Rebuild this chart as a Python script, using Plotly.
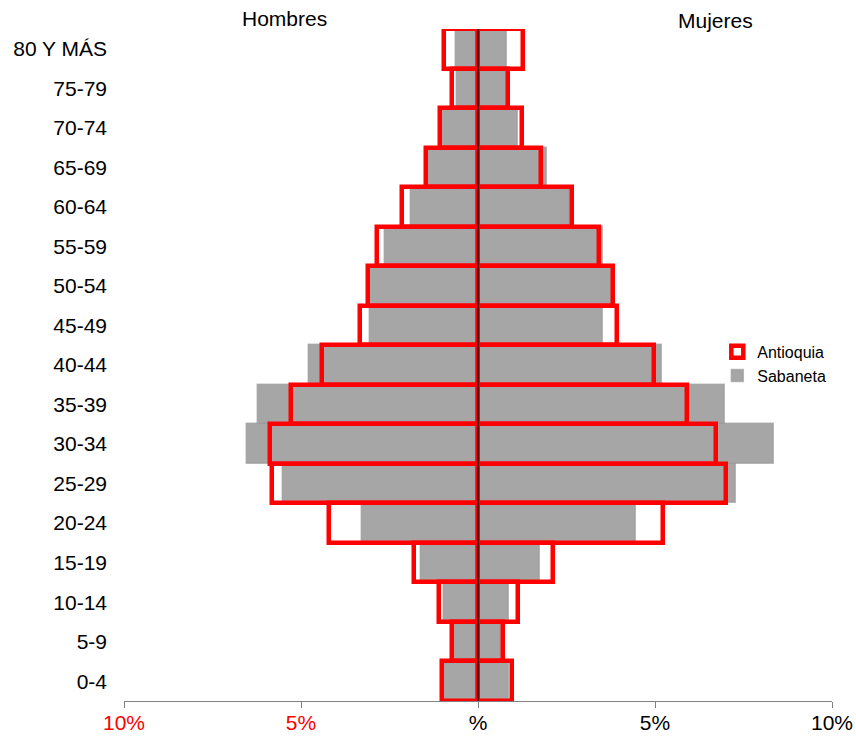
import plotly.graph_objects as go

grupos = ["0-4", "5-9", "10-14", "15-19", "20-24", "25-29", "30-34", "35-39", "40-44",
          "45-49", "50-54", "55-59", "60-64", "65-69", "70-74", "75-79", "80 Y MÁS"]

sab_hombres = [0.98, 0.68, 0.96, 1.62, 3.27, 5.52, 6.53, 6.22, 4.77,
               3.05, 3.05, 2.63, 1.90, 1.45, 1.03, 0.60, 0.62]
sab_mujeres = [0.88, 0.66, 0.88, 1.75, 4.47, 7.28, 8.37, 6.98, 5.20,
               3.53, 3.81, 3.53, 2.60, 1.94, 1.14, 0.84, 0.81]
ant_hombres = [1.02, 0.73, 1.10, 1.80, 4.21, 5.81, 5.88, 5.28, 4.40,
               3.33, 3.10, 2.85, 2.15, 1.47, 1.06, 0.73, 0.96]
ant_mujeres = [0.95, 0.71, 1.12, 2.11, 5.23, 7.00, 6.71, 5.91, 4.97,
               3.93, 3.81, 3.42, 2.66, 1.79, 1.24, 0.86, 1.27]

tick_vals = [-10, -5, 0, 5, 10]
tick_text = ["<span style='color:#FF0000'>10%</span>", "<span style='color:#FF0000'>5%</span>",
             "%", "5%", "10%"]

gray = "#A6A6A6"
red = "#FF0000"
n = len(grupos)

fig = go.Figure()
fig.add_trace(go.Bar(y=grupos, x=[-v for v in sab_hombres], orientation="h", name="Sabaneta",
                     marker=dict(color=gray, line=dict(color="rgba(150,150,150,0.6)", width=1.5)),
                     legendrank=2, showlegend=True))
fig.add_trace(go.Bar(y=grupos, x=sab_mujeres, orientation="h", name="Sabaneta",
                     marker=dict(color=gray, line=dict(color="rgba(150,150,150,0.6)", width=1.5)),
                     showlegend=False))
fig.add_trace(go.Bar(y=grupos, x=[-v for v in ant_hombres], orientation="h", name="Antioquia",
                     marker=dict(color="rgba(0,0,0,0)", line=dict(color=red, width=4.5)),
                     legendrank=1, showlegend=True))
fig.add_trace(go.Bar(y=grupos, x=ant_mujeres, orientation="h", name="Antioquia",
                     marker=dict(color="rgba(0,0,0,0)", line=dict(color=red, width=4.5)),
                     showlegend=False))

fig.add_shape(type="line", x0=0, x1=0, y0=0, y1=1, xref="x", yref="paper",
              line=dict(color="#500000", width=2))

fig.update_layout(
    barmode="overlay", bargap=0,
    width=856, height=738,
    margin=dict(l=124, r=24, t=29, b=37),
    plot_bgcolor="white", paper_bgcolor="white",
    font=dict(family="Liberation Sans, Arial, sans-serif", size=21, color="#000000"),
    xaxis=dict(range=[-10, 10], tickvals=tick_vals, ticktext=tick_text, automargin=False,
               showgrid=False, zeroline=False, showline=True, linecolor="#808080", linewidth=1,
               ticks="outside", ticklen=6, tickcolor="#808080", tickfont=dict(size=21),
               ticklabelstandoff=-3),
    yaxis=dict(categoryorder="array", categoryarray=grupos, range=[-0.5, n - 0.5],
               showgrid=False, zeroline=False, automargin=False,
               showline=False, ticks="", tickfont=dict(size=21), ticklabelstandoff=16),
    yaxis2=dict(overlaying="y", anchor="free", position=0.5, side="right", range=[-0.5, n - 0.5],
                tickvals=list(range(n)), ticks="outside", ticklen=5, tickcolor="#000000",
                showticklabels=False, showgrid=False, zeroline=False, showline=False),
    yaxis3=dict(overlaying="y", anchor="free", position=0.5, side="left", range=[-0.5, n - 0.5],
                tickvals=[i - 0.5 for i in range(n + 1)], ticks="outside", ticklen=5,
                tickcolor="#000000", showticklabels=False, showgrid=False, zeroline=False,
                showline=False),
    legend=dict(x=0.838, y=0.545, xanchor="left", yanchor="top", font=dict(size=16),
                bgcolor="rgba(0,0,0,0)", itemwidth=30, tracegroupgap=2),
    annotations=[
        dict(text="Hombres", x=0.227, y=1.016, xref="paper", yref="paper", showarrow=False,
             xanchor="center", yanchor="middle", font=dict(size=21)),
        dict(text="Mujeres", x=0.836, y=1.013, xref="paper", yref="paper", showarrow=False,
             xanchor="center", yanchor="middle", font=dict(size=21)),
    ],
)

fig.write_html("out.html", config={"displayModeBar": False},
               post_script="document.body.style.margin='0';document.body.style.overflow='hidden';")
